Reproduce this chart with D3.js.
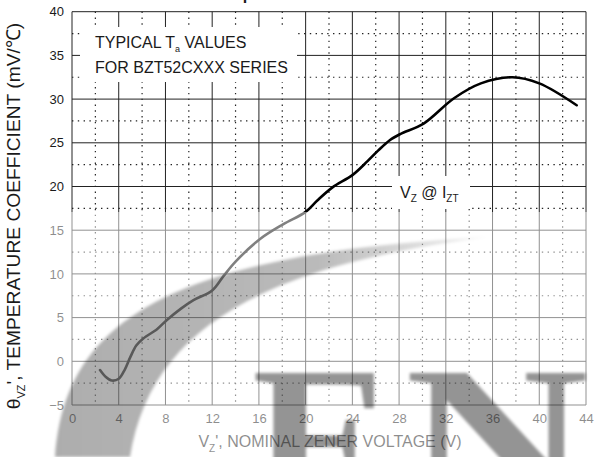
<!DOCTYPE html>
<html lang="en">
<head>
<meta charset="utf-8">
<title>BZT52 temperature coefficient</title>
<script src="https://d3js.org/d3.v7.min.js"></script>
<style>
    body {
        margin: 0;
        background-color: #ffffff;
    }
    svg text {
        font-family: "Liberation Sans", Arial, sans-serif;
        fill: #1a1a1a;
    }
    .tick text {
        font-size: 13px;
    }
    .grid-major {
        stroke: #222;
        stroke-width: 1;
    }
    .grid-minor {
        stroke: #222;
        stroke-width: 1.2;
        stroke-dasharray: 1.4 4.4;
    }
</style>
</head>
<body>
<svg id="chart" width="594" height="457"></svg>
<script>
// curve
var vz = [2.4, 2.9, 3.4, 4.0, 4.5, 5.0, 5.5, 6.1, 7.3, 8.1, 9.3, 10.4, 12.0, 13.0, 14.0, 16.1, 18.1, 20.0, 21.0, 22.3, 24.0, 25.3, 26.2, 27.2, 28.1, 30.1, 32.7, 35.0, 37.7, 40.0, 43.2];
var tc = [-1.0, -1.8, -2.2, -2.0, -1.0, 0.5, 1.8, 2.6, 3.7, 4.7, 6.0, 7.0, 8.1, 9.8, 11.4, 14.0, 15.7, 17.1, 18.4, 19.9, 21.3, 22.9, 24.1, 25.3, 26.0, 27.2, 30.1, 31.8, 32.5, 31.8, 29.3];

var xTicks = [0, 4, 8, 12, 16, 20, 24, 28, 32, 36, 40, 44];
var xMinor = [2, 6, 10, 14, 18, 22, 26, 30, 34, 38, 42];
var yTicks = [-5, 0, 5, 10, 15, 20, 25, 30, 35, 40];
var yMinor = [-2.5, 2.5, 7.5, 12.5, 17.5, 22.5, 27.5, 32.5, 37.5];

var svg = d3.select("#chart");

var x = d3.scaleLinear().domain([0, 44]).range([72, 586]);
var y = d3.scaleLinear().domain([-5, 40]).range([405, 11.7]);

// cut-off title, only a descender peeks in
svg.append("text")
    .attr("x", 211).attr("y", 0)
    .style("font-size", "16px").style("font-weight", "bold")
    .text("Temperature Coefficients");

var grid = svg.append("g");

grid.selectAll(".vminor").data(xMinor).enter().append("line")
    .attr("class", "grid-minor")
    .attr("x1", d => x(d)).attr("x2", d => x(d))
    .attr("y1", y(40)).attr("y2", y(-5));
grid.selectAll(".hminor").data(yMinor).enter().append("line")
    .attr("class", "grid-minor")
    .attr("x1", x(0)).attr("x2", x(44))
    .attr("y1", d => y(d)).attr("y2", d => y(d));
grid.selectAll(".vmajor").data(xTicks).enter().append("line")
    .attr("class", "grid-major")
    .attr("x1", d => x(d)).attr("x2", d => x(d))
    .attr("y1", y(40)).attr("y2", y(-5));
grid.selectAll(".hmajor").data(yTicks).enter().append("line")
    .attr("class", "grid-major")
    .attr("x1", x(0)).attr("x2", x(44))
    .attr("y1", d => y(d)).attr("y2", d => y(d));

// axes, labels only
var yAxis = svg.append("g")
    .attr("transform", "translate(" + x(0) + ",0)")
    .call(d3.axisLeft(y).tickValues(yTicks).tickSize(0).tickPadding(8));
yAxis.select(".domain").remove();

var xAxis = svg.append("g")
    .attr("transform", "translate(0," + y(-5) + ")")
    .call(d3.axisBottom(x).tickValues(xTicks).tickSize(0).tickPadding(9));
xAxis.select(".domain").remove();
svg.selectAll(".tick text").style("fill", "#1a1a1a").style("font-family", "'Liberation Sans', Arial, sans-serif");

// note boxes
svg.append("rect").attr("x", 80).attr("y", 27).attr("width", 217).attr("height", 55).attr("fill", "#fff");
var n1 = svg.append("text").attr("x", 95).attr("y", 48).style("font-size", "16px");
n1.append("tspan").text("TYPICAL T");
n1.append("tspan").attr("dy", 4).style("font-size", "9px").text("a");
n1.append("tspan").attr("dy", -4).text(" VALUES");
svg.append("text").attr("x", 95).attr("y", 73).style("font-size", "16px").text("FOR BZT52CXXX SERIES");

svg.append("rect").attr("x", 392).attr("y", 176).attr("width", 78).attr("height", 33).attr("fill", "#fff");
var n2 = svg.append("text").attr("x", 400).attr("y", 198).style("font-size", "16px");
n2.append("tspan").text("V");
n2.append("tspan").attr("dy", 4).style("font-size", "10px").text("Z");
n2.append("tspan").attr("dy", -4).text(" @ I");
n2.append("tspan").attr("dy", 4).style("font-size", "10px").text("ZT");

// the curve
var line = d3.line()
    .x((d, i) => x(vz[i]))
    .y(d => y(d))
    .curve(d3.curveCatmullRom.alpha(0.5));
svg.append("path")
    .datum(tc)
    .attr("d", line)
    .attr("fill", "none")
    .attr("stroke", "#000")
    .attr("stroke-width", 2.6)
    .attr("stroke-linecap", "round");

// x axis title
var xt = svg.append("text").attr("x", 330).attr("y", 447)
    .attr("text-anchor", "middle").style("font-size", "16px");
xt.append("tspan").text("V");
xt.append("tspan").attr("dy", 5).style("font-size", "10px").text("Z");
xt.append("tspan").attr("dy", -5).text("', NOMINAL ZENER VOLTAGE (V)");

// y axis title
var yt = svg.append("text")
    .attr("transform", "translate(20,216) rotate(-90)")
    .attr("text-anchor", "middle").style("font-size", "19.2px");
yt.append("tspan").text("θ");
yt.append("tspan").attr("dy", 5).style("font-size", "11px").text("VZ");
yt.append("tspan").attr("dy", -5).text("', TEMPERATURE COEFFICIENT (mV/℃)");

// watermark: faded lower half, swoosh and big letters
var defs = svg.append("defs");
defs.append("filter").attr("id", "soft")
    .append("feGaussianBlur").attr("stdDeviation", 1.8);
var grad = defs.append("linearGradient").attr("id", "fade")
    .attr("gradientUnits", "userSpaceOnUse")
    .attr("x1", 60).attr("x2", 490).attr("y1", 0).attr("y2", 0);
grad.append("stop").attr("offset", "0").attr("stop-color", "#000").attr("stop-opacity", 0.32);
grad.append("stop").attr("offset", "0.6").attr("stop-color", "#000").attr("stop-opacity", 0.27);
grad.append("stop").attr("offset", "1").attr("stop-color", "#000").attr("stop-opacity", 0.04);

svg.append("rect").attr("x", 40).attr("y", 212).attr("width", 554).attr("height", 245)
    .attr("fill", "#fff").attr("opacity", 0.5);

svg.append("path")
    .attr("d", "M55,457 C65,330 150,255 488,237 C260,266 150,330 130,457 Z")
    .attr("fill", "url(#fade)")
    .attr("filter", "url(#soft)");

var wm = svg.append("g").attr("filter", "url(#soft)").attr("opacity", 0.42);
wm.append("text").attr("x", 252).attr("y", 512)
    .style("font-family", "'Liberation Serif', 'DejaVu Serif', serif")
    .style("font-weight", "bold").style("font-size", "212px").style("fill", "#000")
    .text("E");
wm.append("text").attr("x", 405).attr("y", 512)
    .attr("transform", "translate(405,0) scale(1.2,1) translate(-405,0)")
    .style("font-family", "'Liberation Serif', 'DejaVu Serif', serif")
    .style("font-weight", "bold").style("font-size", "212px").style("fill", "#000")
    .text("N");
</script>
</body>
</html>
